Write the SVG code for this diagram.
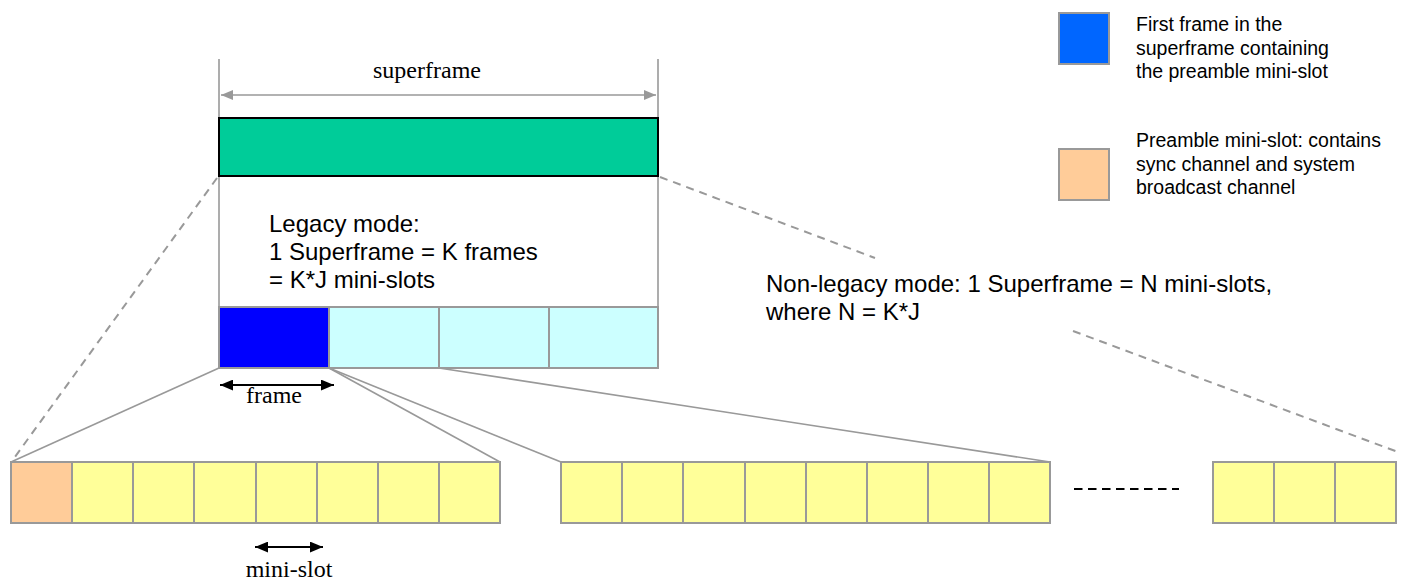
<svg xmlns="http://www.w3.org/2000/svg" width="1402" height="580" viewBox="0 0 1402 580">
<defs>
<style>
.serif{font-family:"Liberation Serif","Times New Roman",serif;font-size:24px;fill:#000}
.sans{font-family:"Liberation Sans",Arial,sans-serif;font-size:24px;fill:#000}
.leg{font-family:"Liberation Sans",Arial,sans-serif;font-size:19.5px;fill:#000}
.cell{stroke:#999;stroke-width:2}
.ms{fill:#FFFF99}
.fr{fill:#CCFFFF}
.gl{stroke:#999;stroke-width:1.6;fill:none}
.gd{stroke:#999;stroke-width:2;fill:none;stroke-dasharray:8 6}
.ba{stroke:#000;stroke-width:2;fill:none}
</style>
<marker id="gah" viewBox="0 0 12 10" refX="12" refY="5" markerWidth="12" markerHeight="10" markerUnits="userSpaceOnUse" orient="auto-start-reverse">
<path d="M0,0 L12,5 L0,10 Z" fill="#999"/>
</marker>
<marker id="bah" viewBox="0 0 12 10" refX="12" refY="5" markerWidth="13" markerHeight="11" markerUnits="userSpaceOnUse" orient="auto-start-reverse">
<path d="M0,0 L12,5 L0,10 Z" fill="#000"/>
</marker>
</defs>
<rect width="1402" height="580" fill="#fff"/>

<g id="connectors">
<line class="gl" x1="219" y1="59" x2="219" y2="306"/>
<line class="gl" x1="658" y1="59" x2="658" y2="306"/>
<line class="gl" x1="221" y1="95" x2="656" y2="95" marker-start="url(#gah)" marker-end="url(#gah)"/>
<line class="gd" x1="217" y1="178" x2="12" y2="461"/>
<line class="gd" x1="660" y1="177" x2="875" y2="258"/>
<line class="gd" x1="1073" y1="331" x2="1398" y2="452"/>
<line class="gl" x1="219" y1="368" x2="11" y2="462"/>
<line class="gl" x1="329" y1="368" x2="500" y2="462"/>
<line class="gl" x1="329" y1="368" x2="561" y2="462"/>
<line class="gl" x1="439" y1="368" x2="1050" y2="462"/>
<line class="ba" x1="220" y1="385" x2="334" y2="385" marker-start="url(#bah)" marker-end="url(#bah)"/>
<line class="ba" x1="255" y1="547" x2="323" y2="547" marker-start="url(#bah)" marker-end="url(#bah)"/>
<line x1="1074" y1="489" x2="1179" y2="489" stroke="#000" stroke-width="2" stroke-dasharray="8.5 5.5"/>
</g>

<g id="superframe">
<rect x="219" y="118" width="439" height="58" fill="#00CC99" stroke="#000" stroke-width="2"/>
<text class="serif" x="427" y="78" text-anchor="middle">superframe</text>
</g>

<g id="legacy-text">
<text class="sans" x="269" y="232">Legacy mode:</text>
<text class="sans" x="269" y="260">1 Superframe = K frames</text>
<text class="sans" x="269" y="288">= K*J mini-slots</text>
</g>

<g id="nonlegacy-text">
<text class="sans" x="766" y="292">Non-legacy mode: 1 Superframe = N mini-slots,</text>
<text class="sans" x="766" y="320">where N = K*J</text>
</g>

<g id="frames">
<rect class="cell" x="219" y="307" width="110" height="61" fill="#0000FF"/>
<rect class="cell fr" x="329" y="307" width="110" height="61"/>
<rect class="cell fr" x="439" y="307" width="110" height="61"/>
<rect class="cell fr" x="549" y="307" width="109" height="61"/>
<text class="serif" x="274" y="403" text-anchor="middle">frame</text>
</g>

<g id="minislots-1">
<rect class="cell" x="11" y="462" width="61" height="61" fill="#FFCC99"/>
<rect class="cell ms" x="72" y="462" width="61" height="61"/>
<rect class="cell ms" x="133" y="462" width="61" height="61"/>
<rect class="cell ms" x="194" y="462" width="62" height="61"/>
<rect class="cell ms" x="256" y="462" width="61" height="61"/>
<rect class="cell ms" x="317" y="462" width="61" height="61"/>
<rect class="cell ms" x="378" y="462" width="61" height="61"/>
<rect class="cell ms" x="439" y="462" width="61" height="61"/>
<text class="serif" x="289" y="577" text-anchor="middle">mini-slot</text>
</g>

<g id="minislots-2">
<rect class="cell ms" x="561" y="462" width="61" height="61"/>
<rect class="cell ms" x="622" y="462" width="61" height="61"/>
<rect class="cell ms" x="683" y="462" width="62" height="61"/>
<rect class="cell ms" x="745" y="462" width="61" height="61"/>
<rect class="cell ms" x="806" y="462" width="61" height="61"/>
<rect class="cell ms" x="867" y="462" width="61" height="61"/>
<rect class="cell ms" x="928" y="462" width="61" height="61"/>
<rect class="cell ms" x="989" y="462" width="61" height="61"/>
</g>

<g id="minislots-3">
<rect class="cell ms" x="1213" y="462" width="61" height="61"/>
<rect class="cell ms" x="1274" y="462" width="61" height="61"/>
<rect class="cell ms" x="1335" y="462" width="61" height="61"/>
</g>

<g id="legend-first-frame">
<rect x="1059" y="13" width="50" height="51" fill="#0066FF" stroke="#999" stroke-width="2"/>
<text class="leg" x="1136" y="31">First frame in the</text>
<text class="leg" x="1136" y="54.5">superframe containing</text>
<text class="leg" x="1136" y="78">the preamble mini-slot</text>
</g>

<g id="legend-preamble">
<rect x="1059" y="149" width="50" height="51" fill="#FFCC99" stroke="#999" stroke-width="2"/>
<text class="leg" x="1136" y="147">Preamble mini-slot: contains</text>
<text class="leg" x="1136" y="170.5">sync channel and system</text>
<text class="leg" x="1136" y="194">broadcast channel</text>
</g>
</svg>
